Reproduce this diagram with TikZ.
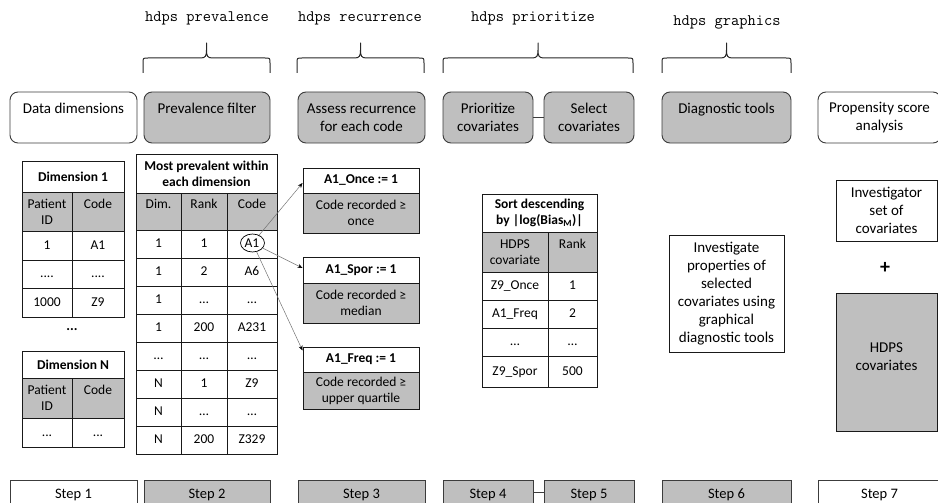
\documentclass[tikz,border=0pt]{standalone}
\usepackage{fontspec}
\setmainfont{Carlito}
\usetikzlibrary{arrows.meta,shapes.geometric}
\definecolor{boxgray}{RGB}{191,191,191}
\definecolor{edge}{RGB}{60,60,60}
\newcommand\fourdots{....}
\newcommand\drawcurlybrace[2]{%
  \pgfmathsetmacro\bxm{(#1+#2)/2}%
  \draw[bracestyle] (#1,73) -- (#1,63) .. controls (#1,58) .. ({#1+5},58)
    -- ({\bxm-6},58) .. controls ({\bxm-1},58) and (\bxm,56) .. (\bxm,50) -- (\bxm,43)
    -- (\bxm,50) .. controls (\bxm,56) and ({\bxm+1},58) .. ({\bxm+6},58)
    -- ({#2-5},58) .. controls (#2,58) .. (#2,63) -- (#2,73);}
\begin{document}
\begin{tikzpicture}[x=1pt,y=-1pt,
  every node/.style={inner sep=0pt, font=\fontsize{15}{18}\selectfont},
  lbl/.style={font=\ttfamily\fontsize{16}{19}\selectfont},
  bracestyle/.style={draw=black!85, line width=1pt, line join=round},
  topbox/.style={draw=edge, line width=0.9pt, rounded corners=8pt, minimum height=51pt, align=center, font=\fontsize{15}{18}\selectfont},
  graybox/.style={fill=boxgray},
  stepbox/.style={draw=edge, line width=0.9pt, minimum height=30pt, font=\fontsize{14.5}{17}\selectfont},
  tbl/.style={draw=black!90, line width=0.9pt},
  tc/.style={font=\fontsize{13.5}{16}\selectfont, text height=9pt, text depth=2pt},
  tcm/.style={font=\fontsize{13.5}{16}\selectfont, align=center},
  tch/.style={font=\bfseries\fontsize{13.5}{16}\selectfont, align=center},
  rtitle/.style={draw=black!90, line width=0.9pt, minimum width=116pt, font=\bfseries\fontsize{13.5}{16}\selectfont},
  rbody/.style={draw=black!90, line width=0.9pt, fill=boxgray, minimum width=116pt, align=center, font=\fontsize{13.5}{16}\selectfont},
  plainbox/.style={draw=black!90, line width=0.9pt, align=center, font=\fontsize{15}{18}\selectfont},
  conn/.style={draw=black!55, line width=0.5pt, -{Stealth[length=5pt,width=4pt,black]}},
  link/.style={draw=edge, line width=0.9pt}
]
\useasboundingbox (0,0) rectangle (938,503);
\clip (0,0) rectangle (938,503);

% command labels
\node[lbl] (lprev) at (207,18) {hdps prevalence};
\node[lbl] (lrec) at (360,18) {hdps recurrence};
\node[lbl] (lprio) at (533,18) {hdps prioritize};
\node[lbl] (lgraph) at (727,22) {hdps graphics};

% braces
\drawcurlybrace{143}{270}
\drawcurlybrace{297}{424}
\drawcurlybrace{443}{633}
\drawcurlybrace{662}{791}

% top boxes
\node[topbox, minimum width=127pt] (b1) at (73.5,117.5) {Data dimensions\\\phantom{I}};
\node[topbox, graybox, minimum width=126pt] (b2) at (207,117.5) {Prevalence filter\\\phantom{I}};
\node[topbox, graybox, minimum width=127pt] (b3) at (361.5,117.5) {Assess recurrence\\for each code};
\node[topbox, graybox, minimum width=90pt] (b4) at (488,117.5) {Prioritize\\covariates};
\node[topbox, graybox, minimum width=90pt] (b5) at (589,117.5) {Select\\covariates};
\node[topbox, graybox, minimum width=129pt] (b6) at (726.5,117.5) {Diagnostic tools\\\phantom{I}};
\node[topbox, minimum width=123pt] (b7) at (879.5,117.5) {Propensity score\\analysis};
\draw[link] (b4) -- (b5);

% Dimension 1 table
\fill[boxgray] (22,192) rectangle (124,231);
\draw[tbl] (22,161) rectangle (124,317);
\foreach \yy in {192,231,260,288} \draw[tbl] (22,\yy) -- (124,\yy);
\draw[tbl] (72,192) -- (72,317);
\node[tch] (d1h) at (73,176.5) {Dimension 1};
\node[tcm] (d1g1) at (47,211.5) {Patient\\ID};
\node[tcm] (d1g2) at (98,211.5) {Code\\\phantom{I}};
\node[tc] (d1a1) at (47,245.5) {1};
\node[tc] (d1b1) at (98,245.5) {A1};
\node[tc] (d1a2) at (47,274) {\fourdots};
\node[tc] (d1b2) at (98,274) {\fourdots};
\node[tc] (d1a3) at (47,302.5) {1000};
\node[tc] (d1b3) at (98,302.5) {Z9};
\node[font=\bfseries\fontsize{14}{16}\selectfont] (vdots) at (72,330) {...};

% Dimension N table
\fill[boxgray] (22,378) rectangle (124,418);
\draw[tbl] (22,351) rectangle (124,447);
\foreach \yy in {378,418} \draw[tbl] (22,\yy) -- (124,\yy);
\draw[tbl] (72,378) -- (72,447);
\node[tch] (dnh) at (73,364.5) {Dimension N};
\node[tcm] (dng1) at (47,398) {Patient\\ID};
\node[tcm] (dng2) at (98,398) {Code\\\phantom{I}};
\node[tc] (dna1) at (47,432.5) {...};
\node[tc] (dnb1) at (98,432.5) {...};

% prevalence table
\fill[boxgray] (136,193) rectangle (277,230);
\draw[tbl] (136,154) rectangle (277,454);
\foreach \yy in {193,230,258,286,314,342,370,398,426} \draw[tbl] (136,\yy) -- (277,\yy);
\draw[tbl] (181,193) -- (181,454);
\draw[tbl] (227,193) -- (227,454);
\node[tch] (ph) at (206.5,173.5) {Most prevalent within\\each dimension};
\node[tcm] (pg1) at (158.5,211.5) {Dim.\\\phantom{I}};
\node[tcm] (pg2) at (204,211.5) {Rank\\\phantom{I}};
\node[tcm] (pg3) at (252,211.5) {Code\\\phantom{I}};
\foreach \a/\b/\c [count=\i] in {1/1/A1,1/2/A6,1/…/…,1/200/A231,…/…/…,N/1/Z9,N/…/…,N/200/Z329} {
  \node[tc] (pa\i) at (158.5,{216+28*\i}) {\a};
  \node[tc] (pb\i) at (204,{216+28*\i}) {\b};
  \node[tc] (pc\i) at (252,{216+28*\i}) {\c};
}
\node[draw=black, line width=0.7pt, ellipse, minimum width=24pt, minimum height=18pt] (a1c) at (252.5,243) {};

% recurrence boxes
\node[rtitle, minimum height=25pt] (once) at (361,180.5) {A1\_Once := 1};
\node[rbody, minimum height=40pt] (onceb) at (361,213) {Code recorded ≥\\once};
\node[rtitle, minimum height=26pt] (spor) at (361,270) {A1\_Spor := 1};
\node[rbody, minimum height=40pt] (sporb) at (361,303) {Code recorded ≥\\median};
\node[rtitle, minimum height=25pt] (freq) at (361,359.5) {A1\_Freq := 1};
\node[rbody, minimum height=37pt] (freqb) at (361,390.5) {Code recorded ≥\\upper quartile};
\draw[conn] (a1c) -- ([yshift=-2.5pt]once.west);
\draw[conn] (a1c) -- ([yshift=2pt]spor.west);
\draw[conn] (a1c) -- ([yshift=9pt]freq.west);

% sort table
\fill[boxgray] (482,232) rectangle (597,272);
\draw[tbl] (482,194) rectangle (597,387);
\foreach \yy in {232,272,300,328,356} \draw[tbl] (482,\yy) -- (597,\yy);
\draw[tbl] (548,232) -- (548,387);
\node[tch] (sh) at (539.5,213) {Sort descending\\by |log(Bias\textsubscript{M})|};
\node[tcm] (sg1) at (515,252) {HDPS\\covariate};
\node[tcm] (sg2) at (572.5,252) {Rank\\\phantom{I}};
\foreach \a/\b/\yy [count=\i] in {Z9\_Once/1/286,A1\_Freq/2/314,…/…/342,Z9\_Spor/500/371.5} {
  \node[tc] (sa\i) at (515,\yy) {\a};
  \node[tc] (sb\i) at (572.5,\yy) {\b};
}

% diagnostics
\node[plainbox, minimum width=115pt, minimum height=117pt] (inv) at (726.5,293.5)
  {Investigate\\properties of\\selected\\covariates using\\graphical\\diagnostic tools};

% propensity score side
\node[plainbox, minimum width=101pt, minimum height=61pt] (invset) at (886.5,210.5) {Investigator\\set of\\covariates};
\node[font=\bfseries\fontsize{20}{22}\selectfont] (plus) at (885,268) {+};
\node[plainbox, fill=boxgray, minimum width=101pt, minimum height=138pt] (hdps) at (886.5,362) {};
\node[align=center] (hdpst) at (886.5,357) {HDPS\\covariates};

% steps
\node[stepbox, minimum width=127pt] (s1) at (73.5,495) {Step 1};
\node[stepbox, graybox, minimum width=126pt] (s2) at (207,495) {Step 2};
\node[stepbox, graybox, minimum width=127pt] (s3) at (361.5,495) {Step 3};
\node[stepbox, graybox, minimum width=90pt] (s4) at (488,495) {Step 4};
\node[stepbox, graybox, minimum width=90pt] (s5) at (589,495) {Step 5};
\node[stepbox, graybox, minimum width=129pt] (s6) at (726.5,495) {Step 6};
\node[stepbox, minimum width=123pt] (s7) at (879.5,495) {Step 7};
\draw[link] ([yshift=3pt]s4.east) -- ([yshift=3pt]s5.west);
\end{tikzpicture}
\end{document}
